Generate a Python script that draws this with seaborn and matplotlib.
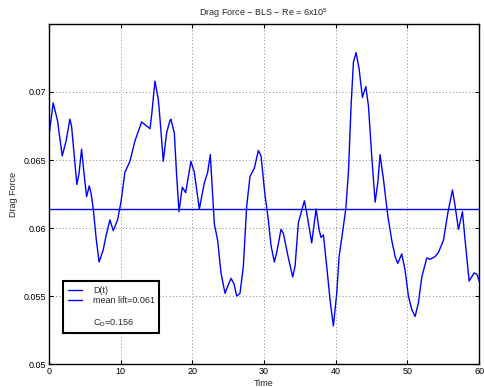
import numpy as np
import pandas as pd
import matplotlib
matplotlib.use("Agg")
import matplotlib.pyplot as plt
from matplotlib.lines import Line2D
import seaborn as sns

# Drag force time history (time in s, drag force)
time = [0.0, 0.14, 0.6, 1.2, 1.86, 2.4, 2.93, 3.16, 3.5, 3.9, 4.2, 4.56, 4.9, 5.26, 5.63, 5.9,
        6.19, 6.6, 7.0, 7.58, 8.0, 8.51, 8.98, 9.58, 10.05, 10.6, 11.3, 12.0, 12.93, 13.4,
        14.1, 14.33, 14.79, 15.25, 15.5, 15.95, 16.42, 16.88, 17.0, 17.49, 17.8, 18.14, 18.6,
        19.07, 19.81, 20.28, 20.98, 21.67, 22.14, 22.51, 23.07, 23.53, 24.0, 24.56, 25.0,
        25.4, 25.81, 26.19, 26.65, 27.12, 27.58, 28.05, 28.65, 29.21, 29.58, 30.14, 30.6,
        30.98, 31.44, 31.77, 32.37, 32.7, 33.39, 34.0, 34.33, 34.79, 35.16, 35.63, 35.96,
        36.65, 37.26, 37.67, 37.95, 38.28, 38.74, 39.21, 39.67, 40.14, 40.47, 40.93, 41.4,
        41.77, 42.14, 42.47, 42.84, 43.26, 43.72, 44.19, 44.56, 45.02, 45.49, 45.86, 46.18,
        46.65, 47.26, 47.81, 48.28, 48.65, 49.21, 49.67, 50.13, 50.6, 51.07, 51.53, 52.0,
        52.7, 53.16, 53.86, 54.32, 55.02, 55.63, 56.28, 56.65, 57.11, 57.67, 58.04, 58.6,
        59.3, 59.7, 60.0]
drag = [0.0668, 0.0673, 0.0692, 0.0679, 0.0653, 0.0664, 0.0680, 0.0675, 0.0655, 0.0632, 0.0640,
        0.0658, 0.0640, 0.0623, 0.0631, 0.0625, 0.0614, 0.0592, 0.0575, 0.0584, 0.0595, 0.0606,
        0.0598, 0.0606, 0.0619, 0.0641, 0.0649, 0.0664, 0.0678, 0.0676, 0.0673, 0.0683, 0.0708,
        0.0695, 0.0680, 0.0649, 0.0670, 0.0679, 0.0680, 0.0670, 0.0640, 0.0612, 0.0630, 0.0626,
        0.0649, 0.0641, 0.0614, 0.0633, 0.0641, 0.0654, 0.0603, 0.0591, 0.0567, 0.0552, 0.0558,
        0.0563, 0.0559, 0.0550, 0.0552, 0.0572, 0.0616, 0.0638, 0.0644, 0.0657, 0.0653, 0.0624,
        0.0606, 0.0587, 0.0575, 0.0582, 0.0599, 0.0596, 0.0578, 0.0564, 0.0572, 0.0604, 0.0611,
        0.0620, 0.0611, 0.0589, 0.0614, 0.0599, 0.0593, 0.0595, 0.0572, 0.0547, 0.0528, 0.0552,
        0.0579, 0.0596, 0.0614, 0.0641, 0.0690, 0.0722, 0.0729, 0.0717, 0.0696, 0.0704, 0.0690,
        0.0653, 0.0619, 0.0633, 0.0654, 0.0636, 0.0609, 0.0591, 0.0579, 0.0574, 0.0581, 0.0569,
        0.0550, 0.0540, 0.0535, 0.0545, 0.0564, 0.0578, 0.0577, 0.0579, 0.0582, 0.0591, 0.0611,
        0.0628, 0.0616, 0.0599, 0.0612, 0.0591, 0.0561, 0.0567, 0.0566, 0.0561]

mean_drag = 0.0614
drag_coeff = 0.156
x_ticks = [0, 10, 20, 30, 40, 50, 60]
y_ticks = [0.05, 0.055, 0.06, 0.065, 0.07]

df = pd.DataFrame({"Time": time, "Drag Force": drag})

sns.set_style("ticks")
plt.rcParams["font.family"] = ["Liberation Sans", "DejaVu Sans"]
plt.rcParams["mathtext.fontset"] = "custom"
plt.rcParams["mathtext.rm"] = "Liberation Sans"
plt.rcParams["mathtext.it"] = "Liberation Sans"

fig = plt.figure(figsize=(4.84, 3.87), dpi=100)
ax = fig.add_axes([0.101, 0.0594, 0.889, 0.8786])

sns.lineplot(data=df, x="Time", y="Drag Force", ax=ax, color="#0000ff", lw=1.0)
ax.axhline(mean_drag, color="#0000ff", lw=1.0)

ax.set_xlim(0, 60)
ax.set_ylim(0.05, 0.075)
ax.set_xticks(x_ticks)
ax.set_yticks(y_ticks)
ax.set_xticklabels([str(v) for v in x_ticks])
ax.set_yticklabels([f"{v:g}" for v in y_ticks])
ax.tick_params(direction="in", length=3, width=0.8, labelsize=6.5, top=True, right=True,
               colors="black", pad=2)
for s in ax.spines.values():
    s.set_visible(True)
    s.set_linewidth(1.0)
    s.set_color("black")
ax.grid(True, linestyle=(0, (1, 3)), color="#666666", lw=0.6)

ax.set_xlabel("Time", fontsize=6.5, labelpad=2)
ax.set_ylabel("Drag Force", fontsize=6.5, labelpad=4)
ax.set_title("Drag Force \u2212 BLS \u2212 Re = 6x10$^5$", fontsize=6.5, pad=6)

handles = [Line2D([], [], color="#0000ff", lw=1.0),
           Line2D([], [], color="#0000ff", lw=1.0),
           Line2D([], [], color="none", lw=0)]
labels = ["D(t)", f"mean lift={mean_drag:.3f}", f"\nC$_D$={drag_coeff:.3f}"]
leg = ax.legend(handles, labels, loc="lower left", bbox_to_anchor=(0.033, 0.091),
                fontsize=6.5, frameon=True, fancybox=False, handlelength=1.6,
                handletextpad=1.2, borderpad=0.5, labelspacing=0.15, borderaxespad=0)
leg.get_frame().set_edgecolor("black")
leg.get_frame().set_linewidth(1.5)
leg.get_frame().set_facecolor("white")
leg.get_frame().set_alpha(1)

fig.savefig("out.png", dpi=100)
